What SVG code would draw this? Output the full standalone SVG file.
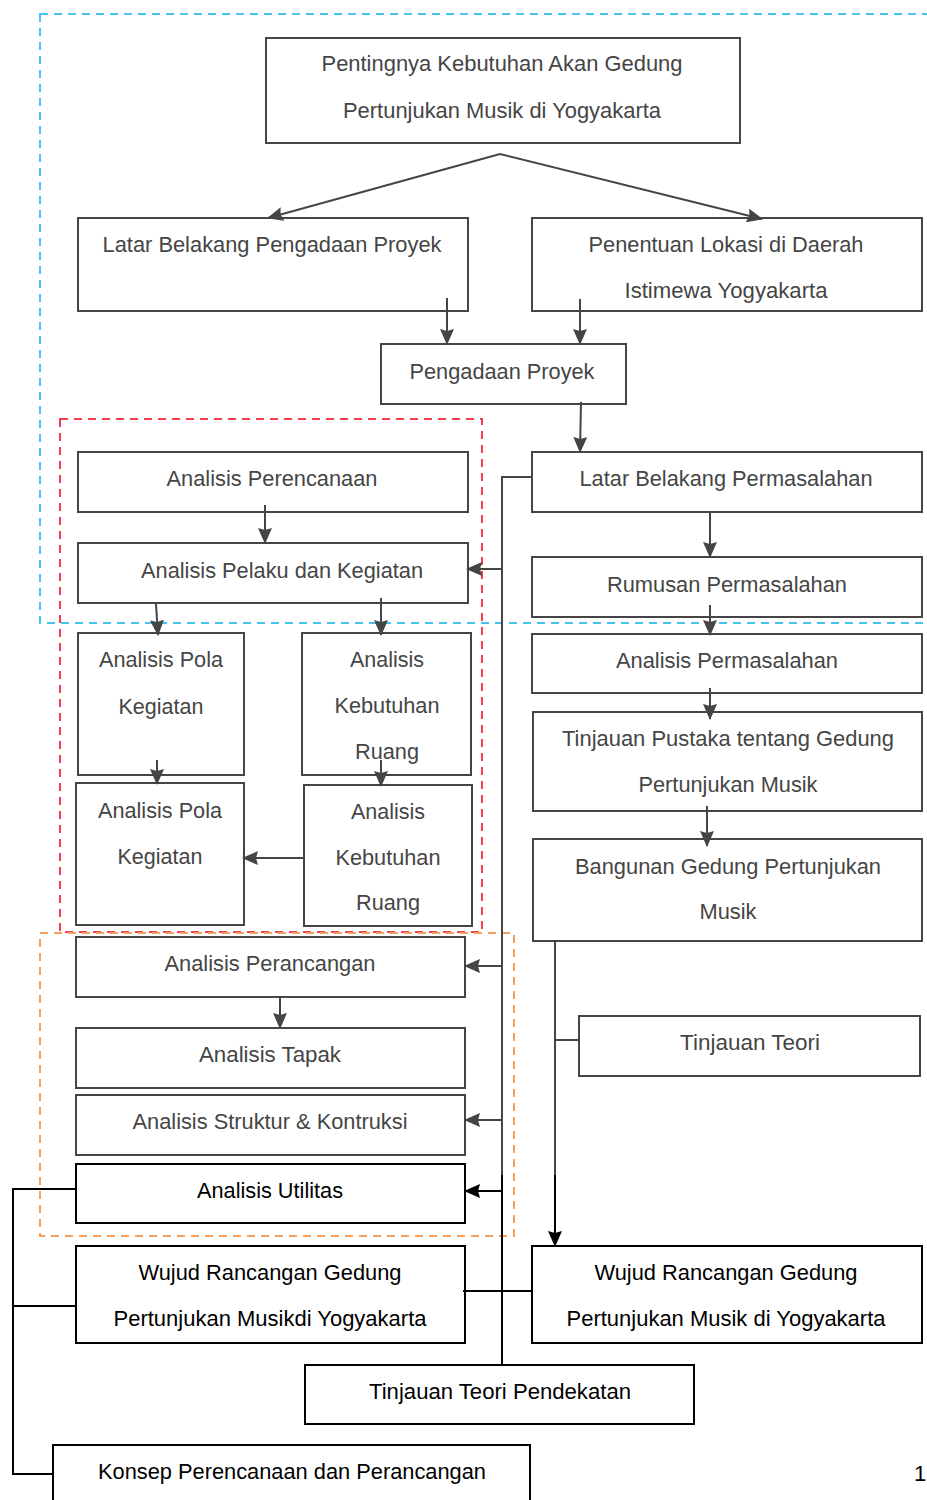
<svg xmlns="http://www.w3.org/2000/svg" width="927" height="1500" viewBox="0 0 927 1500">
<defs>
<style>
.bx{fill:#fff;stroke:#454545;stroke-width:2}
.bk{fill:#fff;stroke:#000;stroke-width:2}
.t{font-family:"Liberation Sans",Arial,sans-serif;font-size:22px;fill:#454545;text-anchor:middle}
.tk{font-family:"Liberation Sans",Arial,sans-serif;font-size:22px;fill:#000;text-anchor:middle}
.ln{fill:none;stroke:#454545;stroke-width:2}
.lk{fill:none;stroke:#000;stroke-width:2}
.ar{fill:none;stroke:#454545;stroke-width:2;marker-end:url(#ag)}
.ak{fill:none;stroke:#000;stroke-width:2;marker-end:url(#ab)}
.zone{fill:none;stroke-width:2;stroke-dasharray:8 6}
</style>
<marker id="ag" markerWidth="16" markerHeight="14" refX="15" refY="7" orient="auto" markerUnits="userSpaceOnUse">
<path d="M0,0 L16,7 L0,14 L2,7 Z" fill="#454545"/>
</marker>
<marker id="ab" markerWidth="16" markerHeight="14" refX="15" refY="7" orient="auto" markerUnits="userSpaceOnUse">
<path d="M0,0 L16,7 L0,14 L2,7 Z" fill="#000"/>
</marker>
</defs>
<rect width="927" height="1500" fill="#fff"/>

<g id="zones">
<rect class="zone" x="40" y="14" width="900" height="609" stroke="#48c2ef"/>
<rect class="zone" x="60" y="419" width="422" height="513" stroke="#f2404f"/>
<rect class="zone" x="40" y="933" width="474" height="303" stroke="#f5a05c"/>
</g>

<g id="n1"><rect class="bx" x="266" y="38" width="474" height="105"/>
<text class="t" x="502" y="71" textLength="361" lengthAdjust="spacingAndGlyphs">Pentingnya Kebutuhan Akan Gedung</text>
<text class="t" x="502" y="118" textLength="318" lengthAdjust="spacingAndGlyphs">Pertunjukan Musik di Yogyakarta</text></g>

<g id="n2"><rect class="bx" x="78" y="218" width="390" height="93"/>
<text class="t" x="272" y="252" textLength="339" lengthAdjust="spacingAndGlyphs">Latar Belakang Pengadaan Proyek</text></g>

<g id="n3"><rect class="bx" x="532" y="218" width="390" height="93"/>
<text class="t" x="726" y="252" textLength="275" lengthAdjust="spacingAndGlyphs">Penentuan Lokasi di Daerah</text>
<text class="t" x="726" y="298" textLength="203" lengthAdjust="spacingAndGlyphs">Istimewa Yogyakarta</text></g>

<g id="n4"><rect class="bx" x="381" y="344" width="245" height="60"/>
<text class="t" x="502" y="379" textLength="185" lengthAdjust="spacingAndGlyphs">Pengadaan Proyek</text></g>

<g id="n5"><rect class="bx" x="78" y="452" width="390" height="60"/>
<text class="t" x="272" y="486" textLength="211" lengthAdjust="spacingAndGlyphs">Analisis Perencanaan</text></g>

<g id="n6"><rect class="bx" x="532" y="452" width="390" height="60"/>
<text class="t" x="726" y="486" textLength="293" lengthAdjust="spacingAndGlyphs">Latar Belakang Permasalahan</text></g>

<g id="n7"><rect class="bx" x="78" y="543" width="390" height="60"/>
<text class="t" x="282" y="578" textLength="282" lengthAdjust="spacingAndGlyphs">Analisis Pelaku dan Kegiatan</text></g>

<g id="n8"><rect class="bx" x="532" y="557" width="390" height="60"/>
<text class="t" x="727" y="592" textLength="240" lengthAdjust="spacingAndGlyphs">Rumusan Permasalahan</text></g>

<g id="n9"><rect class="bx" x="78" y="633" width="166" height="142"/>
<text class="t" x="161" y="667" textLength="124" lengthAdjust="spacingAndGlyphs">Analisis Pola</text>
<text class="t" x="161" y="714" textLength="85" lengthAdjust="spacingAndGlyphs">Kegiatan</text></g>

<g id="n10"><rect class="bx" x="302" y="633" width="169" height="142"/>
<text class="t" x="387" y="667" textLength="74" lengthAdjust="spacingAndGlyphs">Analisis</text>
<text class="t" x="387" y="713" textLength="105" lengthAdjust="spacingAndGlyphs">Kebutuhan</text>
<text class="t" x="387" y="759" textLength="64" lengthAdjust="spacingAndGlyphs">Ruang</text></g>

<g id="n11"><rect class="bx" x="532" y="634" width="390" height="59"/>
<text class="t" x="727" y="668" textLength="222" lengthAdjust="spacingAndGlyphs">Analisis Permasalahan</text></g>

<g id="n12"><rect class="bx" x="533" y="712" width="389" height="99"/>
<text class="t" x="728" y="746" textLength="332" lengthAdjust="spacingAndGlyphs">Tinjauan Pustaka tentang Gedung</text>
<text class="t" x="728" y="792" textLength="179" lengthAdjust="spacingAndGlyphs">Pertunjukan Musik</text></g>

<g id="n13"><rect class="bx" x="76" y="783" width="168" height="142"/>
<text class="t" x="160" y="818" textLength="124" lengthAdjust="spacingAndGlyphs">Analisis Pola</text>
<text class="t" x="160" y="864" textLength="85" lengthAdjust="spacingAndGlyphs">Kegiatan</text></g>

<g id="n14"><rect class="bx" x="304" y="785" width="168" height="141"/>
<text class="t" x="388" y="819" textLength="74" lengthAdjust="spacingAndGlyphs">Analisis</text>
<text class="t" x="388" y="865" textLength="105" lengthAdjust="spacingAndGlyphs">Kebutuhan</text>
<text class="t" x="388" y="910" textLength="64" lengthAdjust="spacingAndGlyphs">Ruang</text></g>

<g id="n15"><rect class="bx" x="533" y="839" width="389" height="102"/>
<text class="t" x="728" y="874" textLength="306" lengthAdjust="spacingAndGlyphs">Bangunan Gedung Pertunjukan</text>
<text class="t" x="728" y="919" textLength="57" lengthAdjust="spacingAndGlyphs">Musik</text></g>

<g id="n16"><rect class="bx" x="76" y="937" width="389" height="60"/>
<text class="t" x="270" y="971" textLength="211" lengthAdjust="spacingAndGlyphs">Analisis Perancangan</text></g>

<g id="n17"><rect class="bx" x="579" y="1016" width="341" height="60"/>
<text class="t" x="750" y="1050" textLength="140" lengthAdjust="spacingAndGlyphs">Tinjauan Teori</text></g>

<g id="n18"><rect class="bx" x="76" y="1028" width="389" height="60"/>
<text class="t" x="270" y="1062" textLength="142" lengthAdjust="spacingAndGlyphs">Analisis Tapak</text></g>

<g id="n19"><rect class="bx" x="76" y="1095" width="389" height="60"/>
<text class="t" x="270" y="1129" textLength="275" lengthAdjust="spacingAndGlyphs">Analisis Struktur &amp; Kontruksi</text></g>

<g id="n20"><rect class="bk" x="76" y="1164" width="389" height="59"/>
<text class="tk" x="270" y="1198" textLength="146" lengthAdjust="spacingAndGlyphs">Analisis Utilitas</text></g>

<g id="n21"><rect class="bk" x="76" y="1246" width="389" height="97"/>
<text class="tk" x="270" y="1280" textLength="263" lengthAdjust="spacingAndGlyphs">Wujud Rancangan Gedung</text>
<text class="tk" x="270" y="1326" textLength="313" lengthAdjust="spacingAndGlyphs">Pertunjukan Musikdi Yogyakarta</text></g>

<g id="n22"><rect class="bk" x="532" y="1246" width="390" height="97"/>
<text class="tk" x="726" y="1280" textLength="263" lengthAdjust="spacingAndGlyphs">Wujud Rancangan Gedung</text>
<text class="tk" x="726" y="1326" textLength="319" lengthAdjust="spacingAndGlyphs">Pertunjukan Musik di Yogyakarta</text></g>

<g id="n23"><rect class="bk" x="305" y="1365" width="389" height="59"/>
<text class="tk" x="500" y="1399" textLength="262" lengthAdjust="spacingAndGlyphs">Tinjauan Teori Pendekatan</text></g>

<g id="n24"><rect class="bk" x="53" y="1445" width="477" height="70"/>
<text class="tk" x="292" y="1479" textLength="388" lengthAdjust="spacingAndGlyphs">Konsep Perencanaan dan Perancangan</text></g>

<text class="tk" x="914" y="1481" style="text-anchor:start">1</text>

<g id="connectors">
<polyline class="ar" points="500,154 268,218"/>
<polyline class="ar" points="500,154 762,219"/>
<line class="ar" x1="447" y1="298" x2="447" y2="344"/>
<line class="ar" x1="580" y1="299" x2="580" y2="344"/>
<line class="ar" x1="581" y1="402" x2="580" y2="452"/>
<line class="ar" x1="265" y1="505" x2="265" y2="543"/>
<line class="ar" x1="710" y1="512" x2="710" y2="557"/>
<line class="ar" x1="710" y1="605" x2="710" y2="635"/>
<line class="ar" x1="710" y1="688" x2="710" y2="719"/>
<line class="ar" x1="707" y1="806" x2="707" y2="846"/>
<line class="ar" x1="156" y1="604" x2="158" y2="635"/>
<line class="ar" x1="381" y1="598" x2="381" y2="635"/>
<line class="ar" x1="157" y1="760" x2="157" y2="784"/>
<line class="ar" x1="381" y1="760" x2="381" y2="786"/>
<line class="ar" x1="304" y1="858" x2="243" y2="858"/>
<line class="ar" x1="280" y1="997" x2="280" y2="1028"/>
<polyline class="ln" points="532,477 502,477 502,1176"/>
<line class="lk" x1="502" y1="1175" x2="502" y2="1365"/>
<line class="ar" x1="502" y1="569" x2="467" y2="569"/>
<line class="ar" x1="502" y1="966" x2="465" y2="966"/>
<line class="ar" x1="502" y1="1120" x2="465" y2="1120"/>
<line class="ak" x1="502" y1="1191" x2="465" y2="1191"/>
<line class="ln" x1="555" y1="941" x2="555" y2="1176"/>
<line class="ak" x1="555" y1="1175" x2="555" y2="1246"/>
<line class="ln" x1="555" y1="1040" x2="579" y2="1040"/>
<line class="lk" x1="463" y1="1291" x2="532" y2="1291"/>
<polyline class="lk" points="76,1189 13,1189 13,1474 53,1474"/>
<line class="lk" x1="13" y1="1306" x2="77" y2="1306"/>
</g>
</svg>
